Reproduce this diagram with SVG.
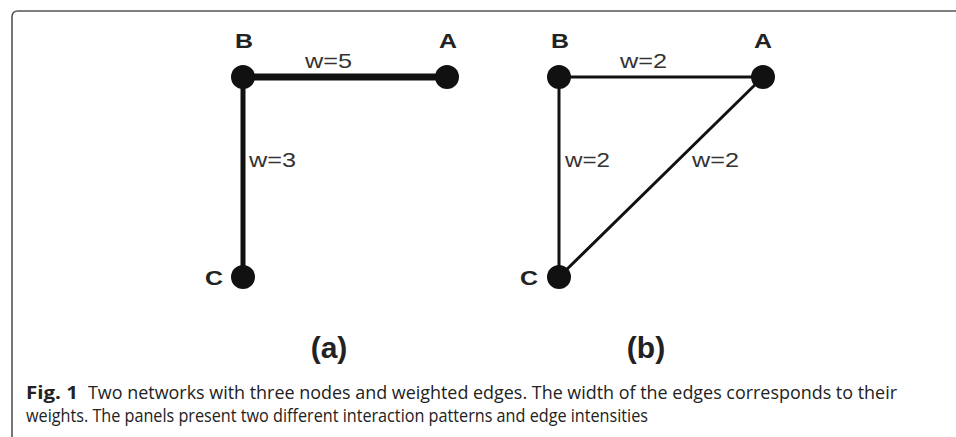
<svg xmlns="http://www.w3.org/2000/svg" width="956" height="437" viewBox="0 0 956 437">
<style>
.node{fill:#111}
.lbl{font-family:"Liberation Sans",Arial,sans-serif;font-weight:bold;font-size:21px;fill:#222}
.w{font-family:"Liberation Sans",Arial,sans-serif;font-size:21px;fill:#333}
.panel{font-family:"Liberation Sans",Arial,sans-serif;font-weight:bold;font-size:30px;fill:#222;text-anchor:middle}
.edge{stroke:#111;stroke-linecap:round;fill:none}
.cap{font-family:"Open Sans","Noto Sans",sans-serif;font-size:18px;fill:#222}
</style>
<path d="M12 437 V17 Q12 11 18 11 H956" fill="none" stroke="#555" stroke-width="1.6"/>
<g id="connectors">
<line class="edge" x1="243" y1="77" x2="447" y2="77" stroke-width="7"/>
<line class="edge" x1="243" y1="77" x2="243" y2="277" stroke-width="5"/>
<line class="edge" x1="559" y1="77" x2="763" y2="77" stroke-width="3"/>
<line class="edge" x1="559" y1="77" x2="559" y2="277" stroke-width="3"/>
<line class="edge" x1="763" y1="77" x2="559" y2="277" stroke-width="3"/>
</g>
<g id="edge-labels">
<text class="w" x="305" y="68" textLength="47" lengthAdjust="spacingAndGlyphs">w=5</text>
<text class="w" x="249" y="167" textLength="47" lengthAdjust="spacingAndGlyphs">w=3</text>
<text class="w" x="620" y="68" textLength="47" lengthAdjust="spacingAndGlyphs">w=2</text>
<text class="w" x="565" y="167" textLength="45" lengthAdjust="spacingAndGlyphs">w=2</text>
<text class="w" x="692" y="167" textLength="47" lengthAdjust="spacingAndGlyphs">w=2</text>
</g>
<g id="a-B"><circle class="node" cx="243" cy="77" r="12"/><text class="lbl" x="235" y="48" textLength="18" lengthAdjust="spacingAndGlyphs">B</text></g>
<g id="a-A"><circle class="node" cx="447" cy="77" r="12"/><text class="lbl" x="439" y="48" textLength="18" lengthAdjust="spacingAndGlyphs">A</text></g>
<g id="a-C"><circle class="node" cx="243" cy="277" r="12"/><text class="lbl" x="205" y="285" textLength="18" lengthAdjust="spacingAndGlyphs">C</text></g>
<g id="b-B"><circle class="node" cx="559" cy="77" r="12"/><text class="lbl" x="551" y="48" textLength="18" lengthAdjust="spacingAndGlyphs">B</text></g>
<g id="b-A"><circle class="node" cx="763" cy="77" r="12"/><text class="lbl" x="754" y="48" textLength="18" lengthAdjust="spacingAndGlyphs">A</text></g>
<g id="b-C"><circle class="node" cx="559" cy="277" r="12"/><text class="lbl" x="520" y="285" textLength="18" lengthAdjust="spacingAndGlyphs">C</text></g>
<text class="panel" x="329" y="358">(a)</text>
<text class="panel" x="646" y="358">(b)</text>
<text class="cap" x="26" y="399"><tspan font-weight="bold" textLength="52" lengthAdjust="spacingAndGlyphs">Fig. 1</tspan><tspan x="88" textLength="809" lengthAdjust="spacingAndGlyphs">Two networks with three nodes and weighted edges. The width of the edges corresponds to their</tspan></text>
<text class="cap" x="26" y="422" textLength="622" lengthAdjust="spacingAndGlyphs">weights. The panels present two different interaction patterns and edge intensities</text>
</svg>
